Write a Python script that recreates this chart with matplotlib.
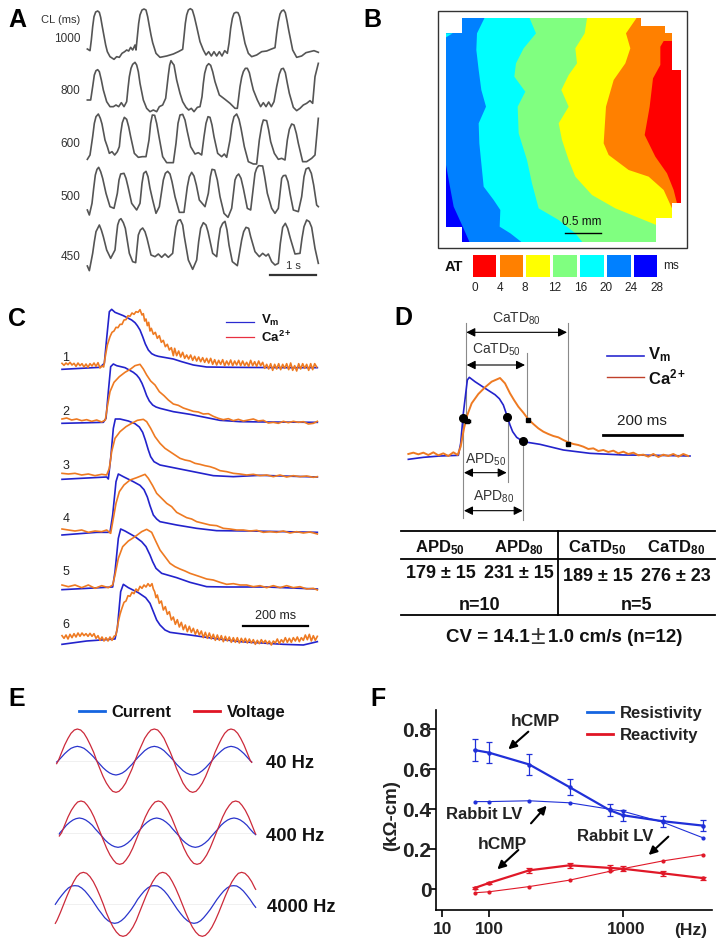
import matplotlib
matplotlib.use('Agg')
import matplotlib.pyplot as plt
from matplotlib.patches import Polygon

plt.rcParams['font.family'] = ['Liberation Sans', 'DejaVu Sans']
plt.rcParams['mathtext.fontset'] = 'custom'
plt.rcParams['mathtext.rm'] = 'Liberation Sans'
plt.rcParams['mathtext.bf'] = 'Liberation Sans:bold'
plt.rcParams['mathtext.it'] = 'Liberation Sans:italic'

W, H = 724, 948

# Panel A: optical traces at each pacing cycle length
cl_labels = ['1000', '800', '600', '500', '450']
trace_1000 = [(262,147),(270,152),(274,120),(278,80),(282,50),(287,36),(293,33),(298,37),(302,52),(306,75),(312,108),(317,135),(322,155),(330,170),(342,178),(350,170),(358,172),(366,160),(374,155),(380,150),(386,153),(392,142),(398,150),(405,135),(408,150),(412,110),(416,70),(420,45),(426,30),(432,27),(438,30),(443,50),(448,78),(453,105),(458,128),(468,160),(480,172),(500,168),(520,162),(535,155),(548,148),(552,110),(556,70),(560,45),(565,30),(571,26),(577,30),(583,50),(590,80),(600,125),(610,150),(618,165),(626,155),(634,168),(642,155),(650,168),(658,155),(666,168),(674,152),(682,160),(687,130),(692,85),(697,55),(702,40),(708,37),(714,38),(719,50),(726,85),(735,130),(745,160),(755,170),(770,165),(785,155),(800,153),(812,148),(825,143),(830,100),(835,65),(840,42),(845,33),(851,30),(856,38),(861,62),(866,90),(878,150),(890,172),(905,168),(918,158),(930,155),(942,152),(955,157)]
trace_800 = [(262,300),(272,300),(278,260),(283,225),(288,212),(293,209),(298,215),(304,240),(310,270),(320,305),(330,320),(340,320),(348,315),(356,320),(364,308),(372,320),(380,305),(384,265),(388,230),(393,205),(398,193),(405,187),(410,195),(415,215),(420,250),(430,300),(440,325),(450,335),(460,330),(470,335),(478,320),(488,315),(497,295),(505,225),(509,195),(513,182),(518,190),(522,195),(530,240),(540,280),(548,305),(558,322),(566,330),(574,325),(582,335),(592,322),(600,320),(606,290),(610,250),(614,220),(620,198),(626,191),(632,196),(638,215),(645,245),(658,285),(675,298),(690,310),(705,325),(712,325),(720,260),(725,232),(730,215),(736,205),(742,205),(748,218),(754,245),(760,270),(772,300),(782,320),(790,308),(798,320),(806,306),(814,320),(822,305),(830,260),(838,222),(844,207),(850,205),(856,218),(862,250),(868,280),(880,322),(890,332),(900,325),(910,315),(920,310),(930,302),(938,310),(945,230),(955,190)]
trace_600 = [(262,478),(270,465),(278,410),(283,370),(288,350),(295,342),(301,355),(306,372),(315,420),(322,440),(328,460),(336,455),(344,465),(352,455),(358,440),(362,400),(367,368),(373,352),(380,358),(386,380),(392,410),(403,460),(415,472),(427,470),(438,470),(447,420),(452,370),(457,345),(464,346),(470,370),(477,410),(488,470),(500,488),(520,488),(528,430),(534,370),(540,345),(548,343),(555,360),(562,395),(572,440),(585,462),(595,458),(605,465),(612,410),(618,370),(624,350),(630,352),(636,375),(642,410),(653,460),(665,470),(673,462),(680,472),(690,420),(696,375),(702,350),(710,342),(717,358),(723,385),(733,440),(745,485),(760,492),(770,492),(778,420),(785,378),(790,360),(800,362),(806,390),(812,425),(823,460),(835,478),(845,475),(855,480),(862,420),(868,388),(875,372),(882,375),(889,400),(895,430),(908,485),(920,485),(935,475),(945,465),(955,355)]
trace_500 = [(262,630),(268,645),(276,610),(281,565),(286,525),(291,508),(296,502),(302,515),(308,535),(318,580),(330,620),(342,625),(352,580),(357,540),(362,522),(372,520),(378,535),(384,560),(395,610),(410,630),(420,610),(426,550),(431,520),(438,514),(444,530),(450,565),(458,600),(468,640),(478,620),(490,540),(496,520),(503,514),(510,522),(516,545),(525,590),(538,637),(552,637),(562,560),(568,530),(575,517),(582,528),(589,555),(598,600),(615,620),(625,580),(631,530),(636,508),(644,510),(652,540),(660,590),(672,640),(684,652),(695,625),(705,540),(710,528),(716,522),(723,535),(730,565),(742,625),(752,630),(765,520),(770,505),(776,497),(788,498),(794,530),(802,580),(815,625),(825,640),(835,625),(845,535),(850,527),(857,526),(864,545),(871,585),(880,630),(895,635),(905,590),(912,530),(918,507),(926,503),(934,520),(941,555),(950,615),(955,620)]
trace_450 = [(262,798),(268,812),(278,760),(283,725),(288,695),(298,675),(304,690),(310,710),(320,750),(332,775),(345,750),(349,710),(353,675),(358,660),(363,656),(370,668),(376,685),(388,760),(398,785),(407,788),(411,745),(415,705),(421,690),(428,684),(435,695),(441,715),(453,765),(465,770),(475,762),(485,772),(495,762),(505,772),(518,760),(523,715),(528,680),(534,662),(541,659),(548,675),(553,710),(565,780),(578,808),(590,780),(596,725),(602,685),(610,668),(618,675),(624,695),(638,760),(650,770),(655,725),(661,685),(668,670),(675,664),(681,690),(687,735),(697,785),(712,797),(725,720),(731,695),(738,682),(746,685),(752,710),(765,755),(778,770),(788,760),(798,768),(805,762),(815,785),(825,795),(835,790),(841,730),(848,682),(856,670),(863,685),(871,715),(885,762),(900,760),(906,715),(912,680),(920,660),(928,665),(935,682),(945,745),(955,790)]

# Panel B: activation map contours, left to right
at_ticks = ['0', '4', '8', '12', '16', '20', '24', '28']
at_colors = ['#ff0000', '#ff8000', '#ffff00', '#80ff80', '#00ffff', '#0080ff', '#0000ff']
map_outline = [(300,55),(837,55),(837,77),(908,77),(908,100),(930,100),(930,210),(956,210),(956,610),(930,610),(930,655),(883,655),(883,725),(300,725),(300,680),(252,680),(252,100),(300,100)]
edge_dark_blue = [(252,495),(262,550),(275,620),(300,675),(322,725)]
edge_blue_cyan = [(367,55),(345,100),(343,150),(350,210),(358,270),(372,320),(350,370),(352,430),(358,490),(365,560),(395,600),(415,630),(413,680),(445,700),(477,725)]
edge_cyan_green = [(503,55),(522,100),(485,145),(462,190),(457,230),(490,275),(467,320),(470,400),(495,480),(510,550),(530,625),(590,660),(640,700),(660,725)]
edge_green_yellow = [(675,55),(668,100),(640,145),(645,190),(620,225),(598,270),(620,320),(590,370),(600,420),(620,480),(640,530),(690,585),(760,625),(883,675)]
edge_yellow_orange = [(823,55),(792,100),(805,145),(790,190),(755,240),(732,320),(725,430),(740,465),(800,510),(860,530),(905,570),(930,625)]
edge_orange_red = [(930,123),(905,123),(895,140),(895,195),(873,235),(863,320),(848,405),(880,470),(915,520),(935,570),(945,610),(956,610)]
corner_cyan = [(252,100),(272,100),(252,112)]

# Panel C: membrane voltage and calcium transients at six sites
site_labels = ['1', '2', '3', '4', '5', '6']
vm_1 = [(186,223),(300,217),(313,205),(320,130),(328,50),(335,43),(345,52),(370,62),(395,75),(405,83),(412,92),(420,105),(428,125),(436,147),(445,165),(455,176),(465,181),(475,184),(520,192),(545,200),(580,210),(620,216),(700,217),(860,218),(952,218)]
vm_2 = [(186,385),(310,382),(318,370),(325,290),(332,215),(340,207),(350,212),(375,218),(400,232),(410,240),(418,250),(426,265),(432,280),(440,302),(448,318),(458,330),(468,336),(480,340),(520,350),(570,358),(620,368),(660,376),(720,380),(800,381),(952,382)]
vm_3 = [(186,553),(300,547),(320,546),(325,552),(332,490),(340,400),(346,372),(360,372),(385,378),(405,386),(418,396),(428,412),(436,435),(445,465),(452,485),(462,500),(480,510),(530,520),(580,530),(640,542),(700,545),(780,541),(952,546)]
vm_4 = [(186,720),(290,712),(330,712),(338,660),(348,560),(355,537),(370,545),(400,560),(420,571),(432,584),(442,606),(450,632),(460,660),(470,672),(480,680),(530,690),(590,700),(650,707),(750,708),(952,712)]
vm_5 = [(186,884),(300,878),(338,876),(345,830),(355,730),(362,702),(375,708),(405,725),(425,740),(438,755),(450,780),(458,800),(468,820),(485,835),(530,848),(570,862),(620,875),(680,876),(800,876),(952,882)]
vm_6 = [(186,1048),(260,1038),(345,1032),(352,1000),(362,890),(370,868),(385,878),(415,893),(437,908),(450,925),(460,950),(470,975),(480,990),(495,1005),(510,1012),(570,1020),(640,1030),(720,1040),(850,1048),(910,1050),(952,1040)]
ca_1 = [(186,205),(192,211),(198,204),(204,209),(210,202),(216,210),(222,205),(228,214),(234,204),(240,212),(246,206),(252,216),(258,207),(264,217),(270,206),(276,213),(282,204),(288,214),(294,203),(300,219),(306,213),(311,216),(315,190),(322,150),(330,125),(336,112),(342,108),(348,97),(354,98),(360,88),(366,88),(372,75),(378,74),(384,62),(390,64),(396,54),(402,58),(408,50),(414,52),(420,44),(426,60),(430,56),(434,78),(438,72),(442,92),(446,82),(450,108),(454,100),(460,118),(466,112),(472,130),(478,122),(484,142),(490,136),(496,155),(502,148),(508,165),(514,158),(520,182),(524,160),(530,182),(536,168),(542,186),(548,172),(554,190),(560,180),(566,192),(572,180),(578,196),(584,184),(590,198),(596,186),(602,200),(608,188),(614,202),(620,190),(626,204),(632,190),(638,208),(644,194),(650,210),(656,196),(662,208),(668,194),(674,212),(680,198),(686,210),(692,195),(698,212),(704,198),(710,210),(716,196),(722,212),(728,198),(734,212),(740,202),(746,214),(752,196),(758,212),(764,200),(770,214),(776,198),(782,212),(788,202),(794,220),(800,208),(806,222),(812,206),(818,226),(824,208),(830,222),(836,206),(842,224),(848,208),(854,220),(860,206),(866,224),(872,204),(878,226),(884,212),(890,228),(896,206),(902,222),(908,206),(914,220),(920,208),(926,226),(932,206),(938,224),(944,206),(950,216)]
ca_2 = [(186,372),(200,369),(215,375),(230,372),(245,377),(260,374),(275,379),(290,375),(305,381),(316,375),(322,335),(330,290),(342,262),(358,245),(375,232),(392,222),(405,212),(420,208),(430,222),(440,240),(452,258),(465,270),(478,290),(492,302),(505,315),(520,327),(535,331),(550,339),(565,344),(580,349),(595,351),(610,357),(625,356),(640,364),(655,370),(670,374),(685,371),(700,377),(715,373),(730,378),(745,375),(760,372),(775,378),(790,376),(805,384),(820,382),(835,385),(850,379),(865,383),(880,379),(895,382),(910,380),(925,387),(940,385),(952,379)]
ca_3 = [(186,535),(205,537),(225,535),(245,540),(265,537),(285,542),(305,538),(320,540),(328,520),(335,470),(345,430),(360,410),(378,395),(395,385),(412,376),(430,373),(440,380),(452,400),(465,425),(480,445),(495,460),(510,470),(525,480),(540,490),(555,495),(570,498),(585,505),(600,508),(615,512),(630,515),(645,520),(660,527),(680,530),(700,535),(720,537),(740,540),(760,538),(780,542),(800,540),(820,545),(840,540),(860,546),(880,542),(900,545),(920,543),(940,547),(952,545)]
ca_4 = [(186,702),(205,705),(225,708),(245,705),(265,712),(285,708),(305,710),(320,705),(332,715),(340,670),(348,625),(358,590),(372,570),(390,555),(410,548),(425,542),(435,538),(445,550),(458,572),(470,595),(485,610),(500,625),(515,635),(530,652),(545,660),(560,668),(575,672),(590,680),(610,685),(630,690),(650,692),(670,700),(690,702),(710,705),(730,705),(750,708),(770,706),(790,712),(810,710),(830,712),(850,708),(870,714),(890,710),(910,714),(930,711),(952,717)]
ca_5 = [(186,870),(205,875),(225,870),(245,878),(265,870),(285,880),(305,872),(325,878),(338,870),(345,840),(355,790),(368,755),(385,738),(405,725),(425,710),(440,703),(455,712),(468,740),(480,765),(495,785),(510,805),(525,815),(540,822),(555,828),(570,835),(585,840),(600,845),(620,852),(640,855),(660,862),(680,868),(700,866),(720,870),(740,870),(760,875),(780,872),(800,878),(820,872),(840,878),(860,872),(880,878),(900,875),(920,882),(940,880),(952,885)]
ca_6 = [(186,1022),(192,1030),(198,1020),(204,1032),(210,1018),(216,1028),(222,1016),(228,1026),(234,1014),(240,1024),(246,1014),(252,1022),(258,1016),(264,1024),(270,1015),(276,1024),(282,1016),(288,1030),(294,1022),(300,1036),(306,1026),(312,1038),(318,1028),(324,1038),(330,1026),(336,1036),(342,1024),(348,1020),(355,980),(360,958),(365,942),(372,922),(378,918),(384,902),(390,904),(396,892),(402,896),(408,882),(414,888),(420,874),(426,880),(432,870),(438,876),(444,866),(450,874),(456,866),(460,882),(464,890),(468,908),(472,900),(478,925),(484,918),(490,945),(496,935),(502,958),(508,950),(514,975),(520,966),(526,988),(532,974),(538,996),(544,982),(550,1004),(556,990),(562,1010),(568,994),(574,1012),(580,1000),(586,1018),(592,1004),(598,1020),(604,1008),(610,1028),(616,1012),(622,1030),(628,1014),(634,1032),(640,1018),(646,1036),(652,1020),(658,1036),(664,1022),(670,1040),(676,1024),(682,1038),(688,1026),(694,1042),(700,1028),(706,1042),(712,1028),(718,1044),(724,1030),(730,1042),(736,1030),(742,1044),(748,1032),(754,1044),(760,1034),(766,1048),(772,1036),(778,1046),(784,1034),(790,1044),(796,1036),(802,1046),(808,1038),(814,1050),(820,1038),(826,1044),(832,1032),(838,1046),(844,1034),(850,1042),(856,1028),(862,1042),(868,1030),(874,1042),(880,1028),(886,1038),(892,1026),(898,1040),(904,1028),(910,1036),(916,1020),(922,1034),(928,1018),(934,1038),(940,1022),(946,1036),(952,1024)]

# Panel D: single beat with duration markers
vm_d = [(55,478),(100,472),(150,468),(205,466),(212,430),(220,340),(232,240),(238,232),(255,245),(290,268),(315,284),(328,296),(340,315),(352,350),(360,375),(368,395),(380,412),(400,425),(450,433),(520,450),(600,460),(700,465),(800,466),(900,468)]
ca_d = [(55,462),(70,458),(85,463),(100,458),(115,465),(130,457),(145,466),(160,460),(175,468),(190,457),(203,465),(212,440),(222,385),(232,345),(245,310),(265,282),(285,262),(305,245),(330,234),(345,250),(360,280),(372,300),(385,320),(400,338),(415,358),(430,372),(445,385),(460,395),(475,402),(490,408),(505,412),(520,420),(535,427),(550,432),(565,435),(580,440),(595,447),(610,445),(625,453),(640,450),(655,456),(670,452),(685,460),(700,455),(715,462),(730,458),(745,466),(760,464),(775,470),(790,462),(805,471),(820,464),(835,468),(850,462),(865,470),(880,462),(895,468)]
apd_dots = [(220,353),(352,351),(400,424)]
cat_dots = [(231,362),(414,360),(534,431)]
table_head = ['$\\mathbf{APD_{50}}$', '$\\mathbf{APD_{80}}$', '$\\mathbf{CaTD_{50}}$', '$\\mathbf{CaTD_{80}}$']
table_vals = ['179 ± 15', '231 ± 15', '189 ± 15', '276 ± 23']

# Panel E: current and voltage waveforms
x_40 = [170,175,185,194,204,213,223,232,242,252,261,271,281,290,300,309,319,329,338,348,357,367,377,386,396,405,415,425,434,444,453,463,473,482,492,501,511,521,530,540,549,559,569,578,588,597,607,617,626,636,645,655,665,674,684,693,703,713,722,732,741,751,755]
v_40 = [311,302,277,255,235,220,210,207,210,220,235,255,277,302,327,349,369,384,394,397,394,384,369,349,327,302,277,255,235,220,210,207,210,220,235,255,277,302,327,349,369,384,394,397,394,384,369,349,327,302,277,255,235,220,210,207,210,220,235,255,277,302,307]
i_40 = [306,302,291,281,272,265,261,259,261,265,272,281,291,302,313,323,332,339,343,345,343,339,332,323,313,302,291,281,272,265,261,259,261,265,272,281,291,302,313,323,332,339,343,345,343,339,332,323,313,302,291,281,272,265,261,259,261,265,272,281,291,302,306]
x_400v = [178,185,195,204,214,224,233,243,253,262,272,282,291,301,311,320,330,340,349,359,369,378,388,398,407,417,427,436,446,456,465,475,485,494,504,514,523,533,543,552,562,572,581,591,601,610,620,630,639,649,659,668,678,688,697,707,717,726,736,746,755,765,767]
v_400 = [528,518,493,471,451,436,426,423,426,436,451,471,493,518,543,565,585,600,610,613,610,600,585,565,543,518,493,471,451,436,426,423,426,436,451,471,493,518,543,565,585,600,610,613,610,600,585,565,543,518,493,471,451,436,426,423,426,436,451,471,493,518,522]
x_400i = [178,180,190,199,209,219,228,238,248,257,267,277,286,296,306,315,325,335,344,354,364,373,383,393,402,412,422,431,441,451,460,470,480,489,499,509,518,528,538,547,557,567,576,586,596,605,615,625,634,644,654,663,673,683,692,702,712,721,731,741,750,760,767]
i_400 = [522,518,507,496,487,480,476,474,476,480,487,496,507,518,529,540,549,556,560,562,560,556,549,540,529,518,507,496,487,480,476,474,476,480,487,496,507,518,529,540,549,556,560,562,560,556,549,540,529,518,507,496,487,480,476,474,476,480,487,496,507,518,524]
x_4000v = [166,171,181,191,201,211,221,230,240,250,260,270,280,290,300,310,319,329,339,349,359,369,379,389,399,409,418,428,438,448,458,468,478,488,498,508,517,527,537,547,557,567,577,587,597,607,616,626,636,646,656,666,676,686,696,706,715,725,735,745,755,765,767]
v_4000 = [790,781,758,733,708,685,665,650,640,637,640,650,665,685,708,733,758,781,801,816,826,829,826,816,801,781,758,733,708,685,665,650,640,637,640,650,665,685,708,733,758,781,801,816,826,829,826,816,801,781,758,733,708,685,665,650,640,637,640,650,665,685,688]
x_4000i = [166,176,186,196,205,215,225,235,245,255,265,275,285,295,305,314,324,334,344,354,364,374,384,394,404,413,423,433,443,453,463,473,483,493,503,512,522,532,542,552,562,572,582,592,602,611,621,631,641,651,661,671,681,691,701,710,720,730,740,750,760,767]
i_4000 = [733,718,705,693,684,678,677,678,684,693,705,718,733,748,761,773,782,788,790,788,782,773,761,748,733,718,705,693,684,678,677,678,684,693,705,718,733,748,761,773,782,788,790,788,782,773,761,748,733,718,705,693,684,678,677,678,684,693,705,718,733,742]

# Panel F: resistivity and reactivity versus frequency
freq = [78, 100, 200, 400, 800, 1000, 2000, 4000]
res_hcmp = [0.695, 0.682, 0.623, 0.51, 0.395, 0.37, 0.34, 0.318]
res_hcmp_err = [0.055, 0.053, 0.05, 0.04, 0.03, 0.027, 0.027, 0.027]
res_rabbit = [0.438, 0.438, 0.442, 0.432, 0.40, 0.39, 0.335, 0.257]
rea_hcmp = [0.007, 0.032, 0.095, 0.12, 0.107, 0.103, 0.08, 0.056]
rea_hcmp_err = [0.006, 0.006, 0.013, 0.014, 0.014, 0.012, 0.012, 0.008]
rea_rabbit = [-0.017, -0.012, 0.014, 0.046, 0.09, 0.103, 0.142, 0.173]
freq_ticks = [44.7, 100, 1000]


def panel(fig, x, y, w, h, scale=3):
    """Axes placed by pixel box, with data units of the 3x crop of that box."""
    ax = fig.add_axes([x / W, 1 - (y + h) / H, w / W, h / H])
    ax.set_xlim(0, w * scale)
    ax.set_ylim(h * scale, 0)
    ax.axis('off')
    ax.patch.set_alpha(0)
    return ax


def trace(ax, pts, color, lw=1.0):
    xs, ys = zip(*pts)
    ax.plot(xs, ys, color=color, lw=lw, solid_joinstyle='round', clip_on=False)


def label(ax, x, y, s, size, bold=False, color='#111111', **kw):
    ax.text(x, y, s, fontsize=size, fontweight='bold' if bold else 'normal',
            color=color, ha=kw.pop('ha', 'center'), va='center', **kw)


def span_arrow(ax, x0, x1, y):
    ax.annotate('', xy=(x1, y), xytext=(x0, y),
                arrowprops=dict(arrowstyle='<|-|>', color='black', lw=0.8,
                                mutation_scale=13, shrinkA=0, shrinkB=0))


def draw_a(fig):
    ax = panel(fig, 0, 0, 362, 290)
    for pts in [trace_1000, trace_800, trace_600, trace_500, trace_450]:
        trace(ax, pts, '#555555', 1.2)
    label(ax, 183, 60, 'CL (ms)', 8, color='#333333')
    for s, y in zip(cl_labels, [118, 272, 432, 590, 772]):
        label(ax, 241, y, s, 8.5, color='#333333', ha='right')
    ax.plot([810, 948], [825, 825], color='#333333', lw=1.6)
    label(ax, 880, 797, '1 s', 8, color='#333333')


def draw_b(fig):
    ax = panel(fig, 362, 0, 362, 300)
    box = Polygon([(229,32),(975,32),(975,743),(229,743)], closed=True, fc='white', ec='#333333', lw=1.0)
    ax.add_patch(box)
    clip = Polygon(map_outline, closed=True, transform=ax.transData)
    # paint from the left band to the right, each one over the previous
    edges = [edge_dark_blue, edge_blue_cyan, edge_cyan_green, edge_green_yellow, edge_yellow_orange, edge_orange_red]
    base = ax.fill([p[0] for p in map_outline], [p[1] for p in map_outline], color=at_colors[6], lw=0)[0]
    base.set_clip_path(clip)
    for edge, col in zip(edges, at_colors[5::-1]):
        pts = edge + [(edge[-1][0], 760), (1085, 760), (1085, 0), (edge[0][0], 0)]
        patch = ax.fill([p[0] for p in pts], [p[1] for p in pts], color=col, lw=0)[0]
        patch.set_clip_path(clip)
    ax.fill([p[0] for p in corner_cyan], [p[1] for p in corner_cyan], color=at_colors[4], lw=0)
    ax.plot([608, 717], [698, 698], color='black', lw=1.0)
    label(ax, 660, 667, '0.5 mm', 8.5)
    lefts = [332, 413, 493, 573, 654, 735, 815]
    ax.bar(lefts, [67] * 7, width=71, bottom=765, align='edge', color=at_colors, lw=0)
    for s, x in zip(at_ticks, [337, 413, 488, 578, 655, 732, 808, 885]):
        label(ax, x, 865, s, 8.5, color='#222222')
    label(ax, 276, 802, 'AT', 10.5, bold=True)
    label(ax, 928, 798, 'ms', 8.5, color='#222222')


def draw_c(fig):
    ax = panel(fig, 0, 295, 340, 350)
    ys = [188, 350, 513, 672, 832, 990]
    vms = [vm_1, vm_2, vm_3, vm_4, vm_5, vm_6]
    cas = [ca_1, ca_2, ca_3, ca_4, ca_5, ca_6]
    for s, y, vm, ca in zip(site_labels, ys, vms, cas):
        label(ax, 198, y, s, 9, color='#222222')
        trace(ax, vm, '#2323cc', 1.2)
        trace(ax, ca, '#ee7a22', 1.2)
    ax.plot([678, 762], [80, 80], color='#2a2ad0', lw=0.9)
    ax.plot([678, 762], [127, 127], color='#e83040', lw=0.9)
    label(ax, 782, 75, '$\\mathbf{V_m}$', 9.5, ha='left')
    label(ax, 782, 127, '$\\mathbf{Ca^{2+}}$', 9.5, ha='left')
    ax.plot([730, 925], [992, 992], color='black', lw=1.6)
    label(ax, 826, 962, '200 ms', 9, color='#222222')


def draw_d(fig):
    ax = panel(fig, 390, 300, 334, 353)
    guides = [(218, 355, 655), (228, 70, 355), (353, 350, 545), (400, 425, 660), (412, 160, 360), (533, 70, 430)]
    for x, y0, y1 in guides:
        ax.plot([x, x], [y0, y1], color='#8a8a8a', lw=0.8)
    trace(ax, vm_d, '#2323cc', 1.2)
    trace(ax, ca_d, '#ee7a22', 1.4)
    ax.plot(*zip(*apd_dots), 'o', color='black', ms=5.5)
    ax.plot(*zip(*cat_dots), 's', color='black', ms=3)
    ax.plot([222, 238], [362, 362], color='black', lw=2.5)
    span_arrow(ax, 229, 531, 97)
    span_arrow(ax, 230, 405, 195)
    span_arrow(ax, 222, 350, 518)
    span_arrow(ax, 222, 398, 632)
    label(ax, 380, 57, '$\\mathrm{CaTD_{80}}$', 10, color='#333333')
    label(ax, 320, 150, '$\\mathrm{CaTD_{50}}$', 10, color='#333333')
    label(ax, 287, 478, '$\\mathrm{APD_{50}}$', 10, color='#333333')
    label(ax, 310, 590, '$\\mathrm{APD_{80}}$', 10, color='#333333')
    ax.plot([652, 762], [168, 168], color='#2a2ad0', lw=1.2)
    ax.plot([652, 762], [232, 232], color='#c0402a', lw=1.0)
    label(ax, 775, 165, '$\\mathbf{V_m}$', 12, ha='left')
    label(ax, 775, 232, '$\\mathbf{Ca^{2+}}$', 12, ha='left')
    ax.plot([638, 875], [404, 404], color='black', lw=2.0)
    label(ax, 755, 362, '200 ms', 11, color='#222222')
    for y in [692, 778, 945]:
        ax.plot([33, 975], [y, y], color='black', lw=1.3)
    ax.plot([504, 504], [692, 945], color='black', lw=1.3)
    for s, x in zip(table_head, [150, 387, 622, 858]):
        label(ax, x, 742, s, 12)
    for s, x, y in zip(table_vals, [152, 386, 624, 858], [822, 822, 830, 830]):
        label(ax, x, y, s, 13, bold=True)
    label(ax, 268, 915, 'n=10', 13, bold=True)
    label(ax, 740, 915, 'n=5', 13, bold=True)
    label(ax, 168, 1011, 'CV = 14.1', 13.5, bold=True, ha='left')
    label(ax, 442, 1011, '±', 19, color='#333333')
    label(ax, 474, 1011, '1.0 cm/s (n=12)', 13.5, bold=True, ha='left')


def draw_e(fig):
    ax = panel(fig, 0, 660, 350, 288)
    blue, red = '#2a35cc', '#cc2a3a'
    for y in [302, 518, 733]:
        ax.plot([170, 755], [y, y], color='#eeeeee', lw=0.6)
    ax.plot(x_40, i_40, color=blue, lw=0.9)
    ax.plot(x_40, v_40, color=red, lw=0.9)
    ax.plot(x_400i, i_400, color=blue, lw=0.9)
    ax.plot(x_400v, v_400, color=red, lw=0.9)
    ax.axhspan(608, 618, color='white', lw=0)
    ax.plot(x_4000i, i_4000, color=blue, lw=0.9)
    ax.plot(x_4000v, v_4000, color=red, lw=0.9)
    ax.plot([237, 315], [152, 152], color='#1565e0', lw=2)
    ax.plot([583, 660], [152, 152], color='#e01525', lw=2)
    label(ax, 333, 157, 'Current', 12, bold=True, ha='left')
    label(ax, 680, 157, 'Voltage', 12, bold=True, ha='left')
    label(ax, 798, 310, '40 Hz', 13.2, bold=True, ha='left')
    label(ax, 798, 530, '400 Hz', 13.2, bold=True, ha='left')
    label(ax, 800, 743, '4000 Hz', 13.2, bold=True, ha='left')


def draw_f(fig):
    left, right = 370 + 197 / 3, 370 + 1025 / 3
    top, bottom = 660 + 150 / 3, 660 + 750 / 3
    ax = fig.add_axes([left / W, 1 - bottom / H, (right - left) / W, (bottom - top) / H])
    ax.set_xscale('log')
    ax.set_xlim(39.8, 4634)
    ax.set_ylim(-0.103, 0.895)
    ax.patch.set_alpha(0)
    blue, red = '#2030d8', '#e01828'
    ax.errorbar(freq, res_hcmp, yerr=res_hcmp_err, color=blue, lw=1.6, capsize=2, elinewidth=0.9, capthick=0.9, marker='o', ms=2.2)
    ax.plot(freq, res_rabbit, color=blue, lw=0.8, marker='o', ms=2)
    ax.errorbar(freq, rea_hcmp, yerr=rea_hcmp_err, color=red, lw=1.6, capsize=2, elinewidth=0.9, capthick=0.9, marker='o', ms=2.2)
    ax.plot(freq, rea_rabbit, color=red, lw=0.8, marker='o', ms=2)
    for side in ['top', 'right']:
        ax.spines[side].set_visible(False)
    for side in ['left', 'bottom']:
        ax.spines[side].set_linewidth(1.2)
    ax.set_yticks([0, 0.2, 0.4, 0.6, 0.8])
    ax.set_yticklabels(['0', '0.2', '0.4', '0.6', '0.8'], fontsize=15, fontweight='bold', color='#222222')
    ax.set_xticks(freq_ticks)
    ax.set_xticks([], minor=True)
    ax.set_xticklabels([])
    ax.tick_params(width=1.2, length=5, pad=-2)

    top_ax = panel(fig, 370, 660, 354, 288)
    for s, x in zip(['10', '100', '1000'], [217, 357, 768]):
        label(top_ax, x, 810, s, 12.5, bold=True, color='#222222')
    label(top_ax, 962, 810, '(Hz)', 12.5, bold=True, color='#222222')
    label(top_ax, 65, 468, '(kΩ-cm)', 13.5, bold=True, color='#222222', rotation=90)
    top_ax.plot([652, 730], [155, 155], color='#1565e0', lw=2)
    top_ax.plot([652, 730], [222, 222], color='#e01525', lw=2)
    label(top_ax, 750, 160, 'Resistivity', 12, bold=True, ha='left', color='#222222')
    label(top_ax, 750, 226, 'Reactivity', 12, bold=True, ha='left', color='#222222')
    label(top_ax, 495, 183, 'hCMP', 12.5, bold=True, color='#222222')
    label(top_ax, 343, 463, 'Rabbit LV', 12, bold=True, color='#222222')
    label(top_ax, 398, 553, 'hCMP', 12.5, bold=True, color='#222222')
    label(top_ax, 735, 530, 'Rabbit LV', 12, bold=True, color='#222222')
    for start, end in [((475, 215), (415, 268)), ((483, 490), (530, 437)),
                       ((445, 570), (382, 628)), ((895, 530), (836, 585))]:
        top_ax.annotate('', xy=end, xytext=start,
                        arrowprops=dict(arrowstyle='-|>', color='black', lw=1.5,
                                        mutation_scale=12, shrinkA=0, shrinkB=0))


def draw_letters(fig):
    ax = panel(fig, 0, 0, W, H, scale=1)
    for s, x, y in [('A', 17, 20), ('B', 372, 20), ('C', 17, 319), ('D', 403, 318), ('E', 17, 699), ('F', 378, 699)]:
        label(ax, x, y, s, 18, bold=True, color='black')


if __name__ == "__main__":
    fig = plt.figure(figsize=(W / 100, H / 100), dpi=100, facecolor='white')
    draw_a(fig)
    draw_b(fig)
    draw_c(fig)
    draw_d(fig)
    draw_e(fig)
    draw_f(fig)
    draw_letters(fig)
    fig.savefig('out.png', dpi=100)
